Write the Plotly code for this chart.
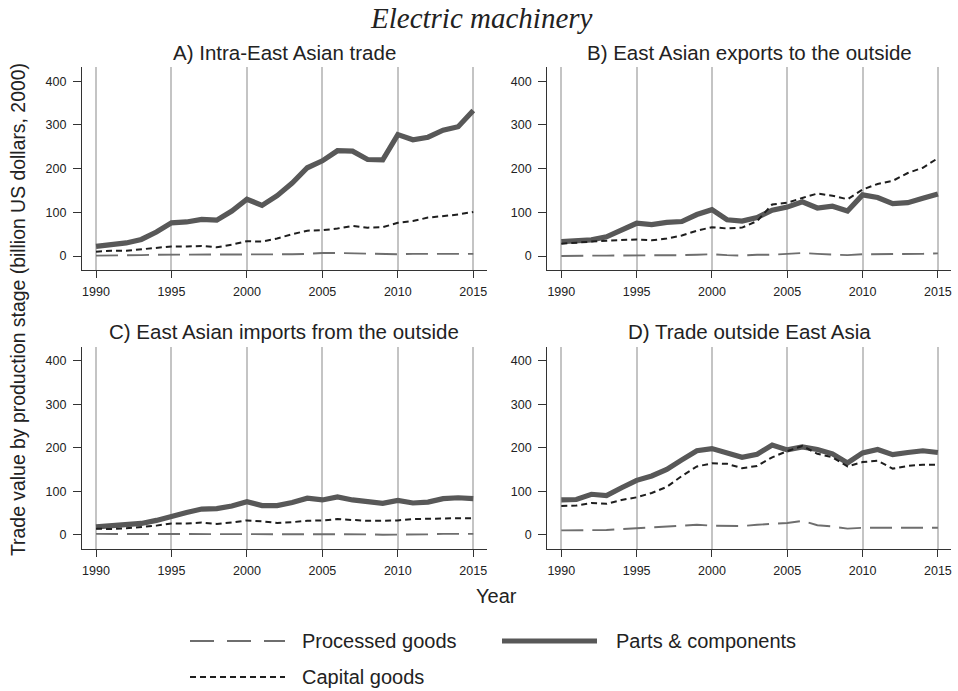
import plotly.graph_objects as go

W, H = 958, 691

years = list(range(1990, 2016))

# A) Intra-East Asian trade
a_parts = [22, 27, 30, 38, 55, 76, 78, 84, 82, 103, 130, 116, 138, 167, 202, 218,
           241, 240, 221, 220, 278, 266, 272, 288, 296, 333]
a_capital = [10, 12, 12, 15, 18, 22, 22, 23, 20, 26, 34, 33, 40, 50, 58, 59,
             63, 69, 65, 66, 76, 80, 88, 91, 95, 101]
a_processed = [1, 1, 1, 2, 3, 3, 3, 3, 3, 4, 4, 4, 4, 4, 5, 7,
               7, 6, 5, 4, 4, 5, 5, 5, 5, 5]

# B) East Asian exports to the outside
b_parts = [33, 34, 37, 44, 58, 75, 72, 77, 79, 95, 106, 83, 80, 88, 105, 112,
           124, 110, 114, 103, 140, 134, 120, 122, 132, 142]
b_capital = [28, 31, 33, 35, 37, 38, 36, 40, 47, 58, 66, 63, 65, 80, 118, 122,
             133, 143, 138, 130, 152, 165, 172, 190, 202, 224]
b_processed = [0, 1, 1, 1, 1, 1, 1, 1, 2, 3, 4, 2, 1, 3, 3, 5,
               7, 5, 4, 2, 4, 4, 4, 5, 5, 6]

# C) East Asian imports from the outside
c_parts = [18, 20, 22, 26, 33, 43, 51, 59, 60, 66, 76, 67, 67, 74, 84, 80,
           87, 80, 77, 72, 79, 73, 75, 83, 85, 83]
c_capital = [14, 13, 15, 18, 21, 26, 26, 28, 25, 28, 33, 31, 27, 29, 32, 33,
             36, 34, 32, 32, 33, 36, 37, 37, 38, 38]
c_processed = [2, 2, 2, 2, 2, 2, 2, 2, 2, 2, 2, 2, 2, 2, 2, 2,
               2, 2, 1, 0, 0, 0, 1, 2, 2, 2]

# D) Trade outside East Asia
d_parts = [80, 81, 93, 90, 108, 125, 135, 150, 172, 193, 198, 189, 178, 185, 206, 195,
           202, 196, 186, 165, 188, 196, 184, 189, 193, 189]
d_capital = [66, 67, 73, 71, 80, 86, 96, 110, 135, 157, 164, 163, 153, 158, 178, 192,
             204, 186, 178, 157, 167, 170, 152, 158, 161, 161]
d_processed = [10, 10, 11, 11, 13, 15, 17, 18, 21, 23, 21, 21, 20, 23, 25, 27,
               32, 22, 19, 14, 16, 16, 15, 16, 16, 16]

panel_titles = ["A) Intra-East Asian trade",
                "B) East Asian exports to the outside",
                "C) East Asian imports from the outside",
                "D) Trade outside East Asia"]
panels = [(a_processed, a_parts, a_capital),
          (b_processed, b_parts, b_capital),
          (c_processed, c_parts, c_capital),
          (d_processed, d_parts, d_capital)]

x_ticks = [1990, 1995, 2000, 2005, 2010, 2015]
y_ticks = [0, 100, 200, 300, 400]

series_names = ["Processed goods", "Parts & components", "Capital goods"]
series_styles = [
    dict(color="#6e6e6e", width=1.9, dash="22px,9px"),
    dict(color="#585858", width=5.2, dash="solid"),
    dict(color="#1e1e1e", width=2.0, dash="6px,4px"),
]
legend_dashes = ["24px,13px", "solid", "6px,4px"]

# pixel helpers for layout placement
def px(x):
    return x / W

def py(y):
    return 1 - y / H

x_domains = [(82, 486.7), (547.3, 951.3)]
y_domains = [(67.3, 270), (346.7, 548.7)]

SANS = "Liberation Sans, Arial, Helvetica"
tick_font = dict(family=SANS, size=12.5, color="#222")

fig = go.Figure()
layout = dict(
    width=W, height=H,
    margin=dict(l=0, r=0, t=0, b=0),
    paper_bgcolor="white", plot_bgcolor="white",
    showlegend=False,
    font=dict(family=SANS, color="#222"),
)

annotations = []
for i, (vals, title) in enumerate(zip(panels, panel_titles)):
    row, col = divmod(i, 2)
    n = i + 1
    xa = "x" if n == 1 else f"x{n}"
    ya = "y" if n == 1 else f"y{n}"
    for v, name, st in zip(vals, series_names, series_styles):
        fig.add_trace(go.Scatter(x=years, y=v, mode="lines", name=name,
                                 line=st, xaxis=xa, yaxis=ya, hoverinfo="skip"))
    xd = x_domains[col]
    yd = y_domains[row]
    layout[f"xaxis{'' if n == 1 else n}"] = dict(
        domain=[px(xd[0]), px(xd[1])], anchor=ya,
        range=[1989.07, 2015.89], tickvals=x_ticks,
        showgrid=True, gridcolor="#c4c4c4", gridwidth=1.6,
        showline=True, linecolor="#333", linewidth=1.2,
        ticks="outside", ticklen=7, tickwidth=1.2, tickcolor="#333",
        tickfont=tick_font, zeroline=False, ticklabelstandoff=3,
    )
    layout[f"yaxis{'' if n == 1 else n}"] = dict(
        domain=[py(yd[1]), py(yd[0])], anchor=xa,
        range=[-32, 432], tickvals=y_ticks,
        showgrid=False, zeroline=False,
        showline=True, linecolor="#333", linewidth=1.2,
        ticks="outside", ticklen=8, tickwidth=1.2, tickcolor="#333",
        tickfont=tick_font, ticklabelstandoff=4,
    )
    annotations.append(dict(
        text=title, x=px((xd[0] + xd[1]) / 2), y=py(yd[0] - 15),
        xref="paper", yref="paper", xanchor="center", yanchor="middle",
        showarrow=False, font=dict(size=20.5, color="#222"),
    ))

# overall title
annotations.append(dict(
    text="<i>Electric machinery</i>", x=px(481), y=py(18),
    xref="paper", yref="paper", xanchor="center", yanchor="middle",
    showarrow=False, font=dict(family="Liberation Serif, Times New Roman", size=29, color="#222"),
))
# shared axis titles
annotations.append(dict(
    text="Trade value by production stage (billion US dollars, 2000)",
    x=px(18), y=py(310), xref="paper", yref="paper",
    xanchor="center", yanchor="middle", textangle=-90,
    showarrow=False, font=dict(size=19.4, color="#222"),
))
annotations.append(dict(
    text="Year", x=px(497), y=py(596), xref="paper", yref="paper",
    xanchor="center", yanchor="middle",
    showarrow=False, font=dict(size=20, color="#222"),
))

# legend: line samples and labels
legend_items = [
    (0, 190, 285, 641, 300),
    (1, 502, 597, 641, 614),
    (2, 190, 285, 677, 300),
]
shapes = []
for k, x0, x1, yy, tx in legend_items:
    st = series_styles[k]
    shapes.append(dict(type="line", xref="paper", yref="paper",
                       x0=px(x0), x1=px(x1), y0=py(yy), y1=py(yy),
                       line=dict(color=st["color"], width=st["width"], dash=legend_dashes[k])))
    annotations.append(dict(
        text=series_names[k], x=px(tx), y=py(yy), xref="paper", yref="paper",
        xanchor="left", yanchor="middle", showarrow=False,
        font=dict(size=20, color="#222"),
    ))

layout["annotations"] = annotations
layout["shapes"] = shapes
fig.update_layout(**layout)
fig.write_html("out.html")
